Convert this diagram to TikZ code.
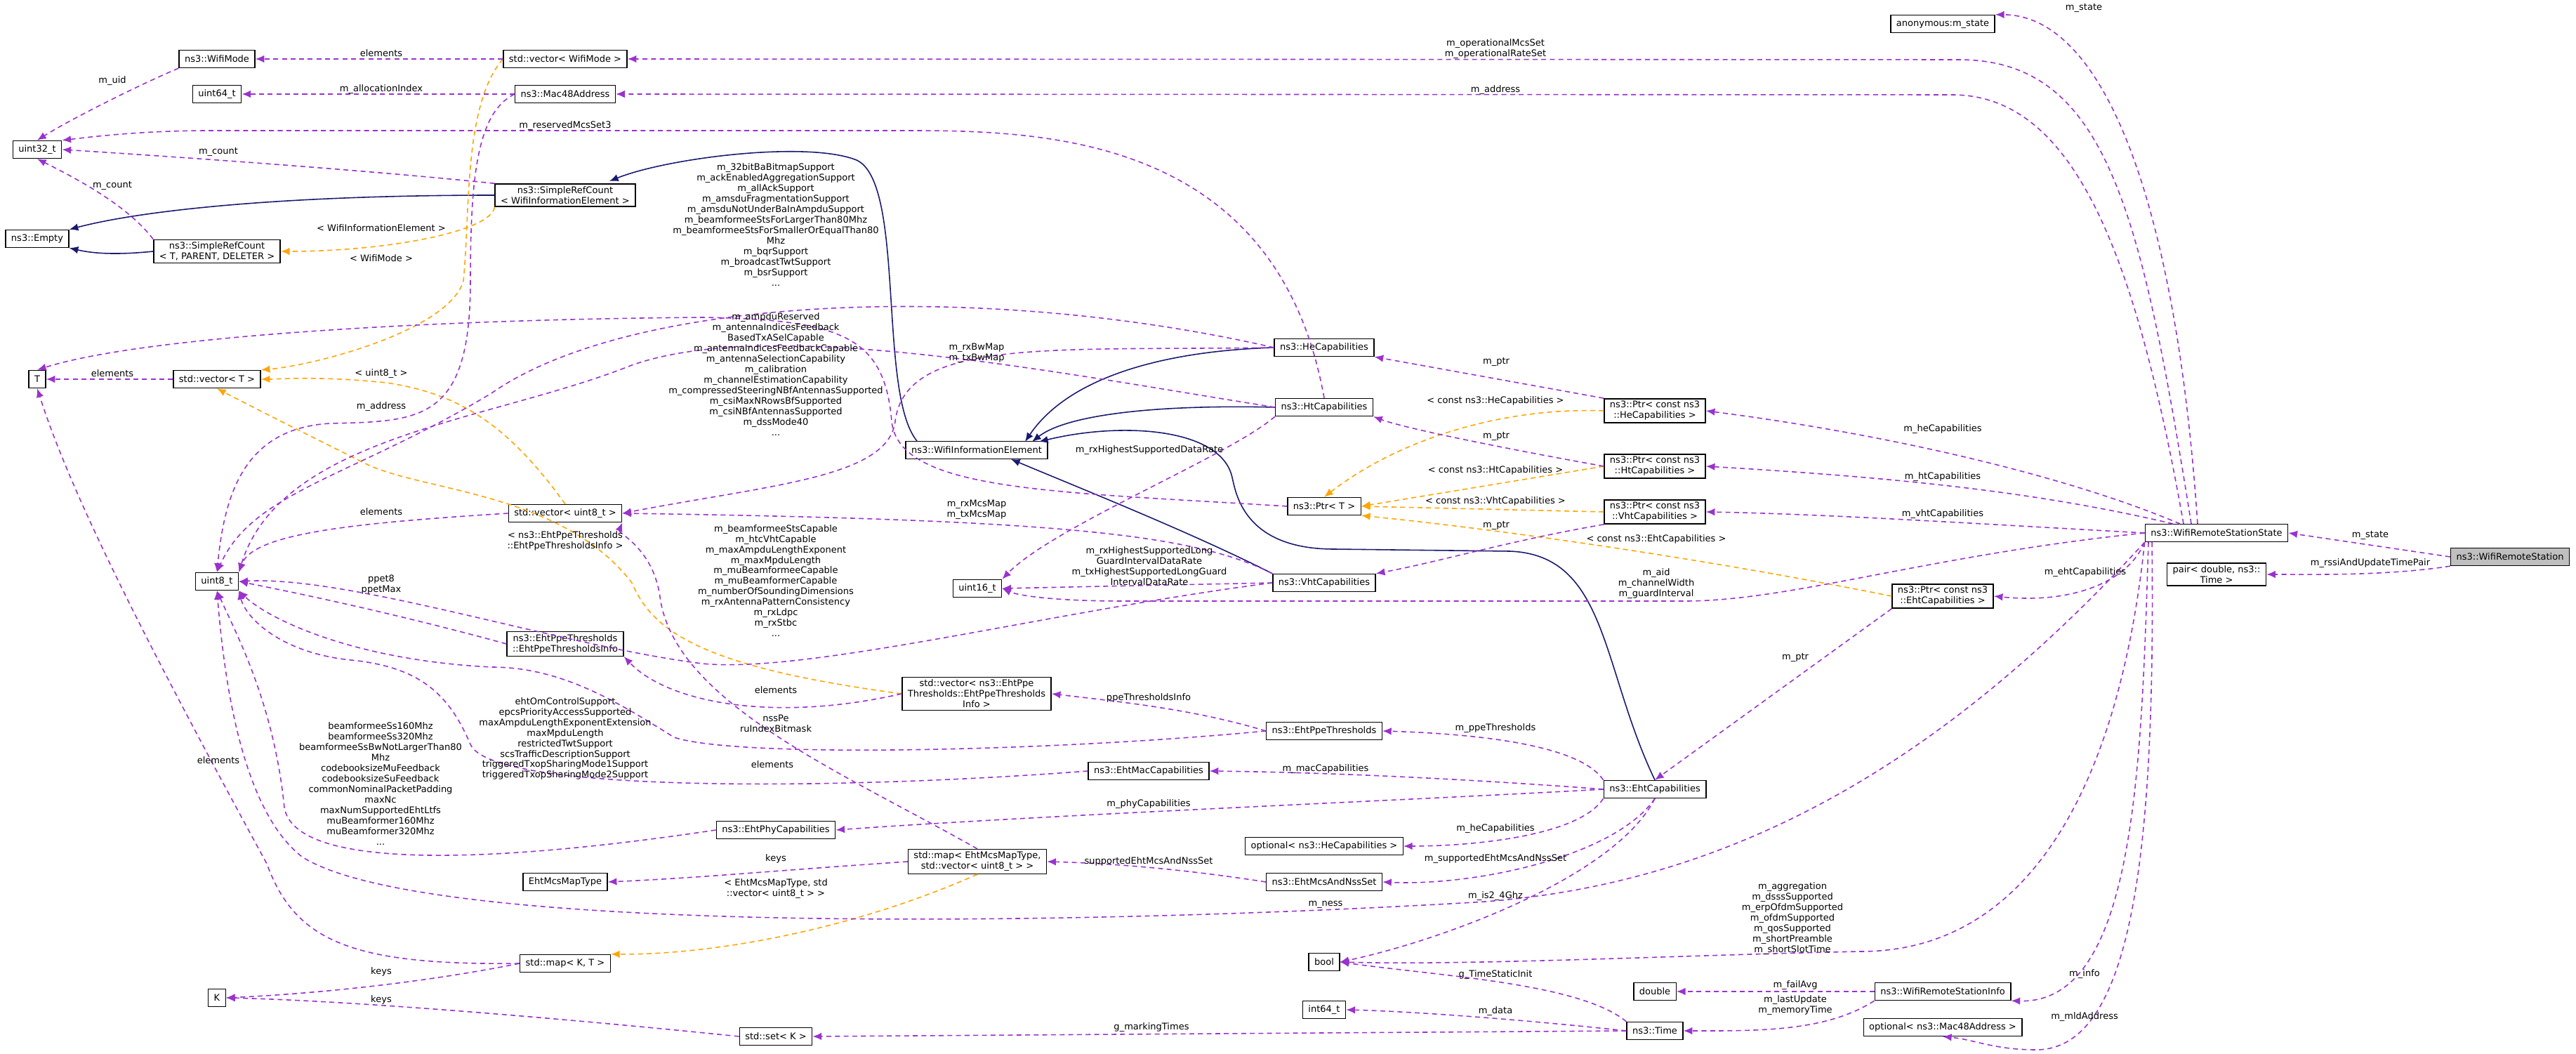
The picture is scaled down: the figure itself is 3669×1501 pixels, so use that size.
\documentclass[tikz,border=0pt]{standalone}
\usepackage{fontspec}
\setmainfont{DejaVu Sans}
\usetikzlibrary{arrows.meta}
\definecolor{relcol}{HTML}{9A32CD}
\definecolor{tplcol}{HTML}{FFA500}
\definecolor{inhcol}{HTML}{191970}
\tikzset{
  box/.style={draw=black, line width=0.4pt, fill=white, align=center, inner xsep=0.08cm, inner ysep=0.035cm, minimum height=0.25cm, font=\fontsize{3.7}{4.25}\selectfont},
  lbl/.style={align=center, inner sep=0pt, font=\fontsize{3.7}{4.25}\selectfont},
  rel/.style={draw=relcol, line width=0.45pt, dash pattern=on 2pt off 1.5pt, -{Latex[length=3.6pt,width=3pt]}},
  tpl/.style={draw=tplcol, line width=0.45pt, dash pattern=on 2pt off 1.5pt, -{Latex[length=3.6pt,width=3pt]}},
  inh/.style={draw=inhcol, line width=0.45pt, -{Latex[length=3.6pt,width=3pt]}}
}
\begin{document}
\begin{tikzpicture}[x=0.01cm, y=-0.01cm]
    \useasboundingbox (0,0) rectangle (3669,1501);

    % Classes, left column
    \node[box] (wifimode) at (309,84) {ns3::WifiMode};
    \node[box] (vecmode) at (805,84) {std::vector< WifiMode >};
    \node[box] (uintsf) at (309,134) {uint64\_t};
    \node[box] (mac) at (805,134) {ns3::Mac48Address};
    \node[box] (uinttt) at (53,213) {uint32\_t};
    \node[box] (srcwie) at (805,278) {ns3::SimpleRefCount\\< WifiInformationElement >};
    \node[box] (empty) at (53,340) {ns3::Empty};
    \node[box] (srct) at (309,358) {ns3::SimpleRefCount\\< T, PARENT, DELETER >};
    \node[box] (tnode) at (53,540) {T};
    \node[box] (vect) at (309,540) {std::vector< T >};
    \node[box] (vecu) at (805,731) {std::vector< uint8\_t >};
    \node[box] (ueight) at (309,828) {uint8\_t};
    \node[box] (ppeinfo) at (805,917) {ns3::EhtPpeThresholds\\::EhtPpeThresholdsInfo};
    \node[box] (mcstype) at (805,1256) {EhtMcsMapType};
    \node[box] (mapkt) at (805,1372) {std::map< K, T >};
    \node[box] (knode) at (309,1421) {K};
    \node[box] (setk) at (1105,1476) {std::set< K >};

    % Classes, middle
    \node[box] (hecap) at (1886,495) {ns3::HeCapabilities};
    \node[box] (htcap) at (1886,580) {ns3::HtCapabilities};
    \node[box] (wie) at (1391,641) {ns3::WifiInformationElement};
    \node[box] (ptrt) at (1886,721) {ns3::Ptr< T >};
    \node[box] (usixteen) at (1392,838) {uint16\_t};
    \node[box] (vhtcap) at (1886,830) {ns3::VhtCapabilities};
    \node[box] (vecppe) at (1391,988) {std::vector< ns3::EhtPpe\\Thresholds::EhtPpeThresholds\\Info >};
    \node[box] (ppe) at (1886,1041) {ns3::EhtPpeThresholds};
    \node[box] (ehtmac) at (1636,1098) {ns3::EhtMacCapabilities};
    \node[box] (ehtphy) at (1105,1182) {ns3::EhtPhyCapabilities};
    \node[box] (mapmcs) at (1392,1227) {std::map< EhtMcsMapType,\\std::vector< uint8\_t > >};
    \node[box] (opthe) at (1886,1205) {optional< ns3::HeCapabilities >};
    \node[box] (mcsnss) at (1886,1256) {ns3::EhtMcsAndNssSet};
    \node[box] (boolnode) at (1886,1370) {bool};
    \node[box] (isf) at (1886,1438) {int64\_t};

    % Classes, right
    \node[box] (ptrhe) at (2357,585) {ns3::Ptr< const ns3\\::HeCapabilities >};
    \node[box] (ptrht) at (2357,664) {ns3::Ptr< const ns3\\::HtCapabilities >};
    \node[box] (ptrvht) at (2357,729) {ns3::Ptr< const ns3\\::VhtCapabilities >};
    \node[box] (ptreht) at (2767,849) {ns3::Ptr< const ns3\\::EhtCapabilities >};
    \node[box] (eht) at (2357,1124) {ns3::EhtCapabilities};
    \node[box] (anon) at (2767,34) {anonymous:m\_state};
    \node[box] (wrss) at (3157,759) {ns3::WifiRemoteStationState};
    \node[box, fill=black!25] (wrs) at (3575,793) {ns3::WifiRemoteStation};
    \node[box] (pair) at (3157,818) {pair< double, ns3::\\Time >};
    \node[box] (dbl) at (2357,1412) {double};
    \node[box] (wrsi) at (2767,1412) {ns3::WifiRemoteStationInfo};
    \node[box] (timen) at (2357,1468) {ns3::Time};
    \node[box] (optmac) at (2767,1463) {optional< ns3::Mac48Address >};

    % Inheritance
    \draw[inh] (srcwie.west) .. controls (400,278) and (200,300) .. (empty.north east);
    \draw[inh] (srct.west) .. controls (150,365) and (120,358) .. (empty.south east);
    \draw[inh] (1306,628) .. controls (1250,560) and (1290,260) .. (1220,228) .. controls (1150,200) and (950,225) .. (868,258);
    \draw[inh] (hecap.west) .. controls (1650,500) and (1520,540) .. (1460,629);
    \draw[inh] (htcap.west) .. controls (1650,576) and (1520,590) .. (1470,629);
    \draw[inh] (vhtcap.north west) .. controls (1700,760) and (1550,700) .. (1440,654);
    \draw[inh] (eht.north) .. controls (2280,950) and (2290,790) .. (2150,785) -- (1900,782) .. controls (1770,782) and (1760,700) .. (1755,680) .. controls (1740,610) and (1600,600) .. (1480,629);

    % Template arguments
    \draw[tpl] (srcwie.south west) .. controls (700,330) and (550,358) .. (srct.east);
    \draw[tpl] (vecmode.west) .. controls (660,150) and (670,300) .. (660,400) .. controls (640,470) and (450,520) .. (vect.north east);
    \draw[tpl] (vecu.north) .. controls (720,600) and (650,560) .. (550,545) .. controls (450,535) and (400,540) .. (vect.east);
    \draw[tpl] (vecppe.west) .. controls (1000,950) and (930,900) .. (900,830) .. controls (800,700) and (600,700) .. (520,660) .. controls (420,610) and (360,580) .. (vect.south);
    \draw[tpl] (ptrhe.west) .. controls (2150,580) and (2000,620) .. (ptrt.north);
    \draw[tpl] (ptrht.west) -- (ptrt.east);
    \draw[tpl] (ptrvht.west) -- (ptrt.east);
    \draw[tpl] (ptreht.west) .. controls (2400,790) and (2100,750) .. (ptrt.south east);
    \draw[tpl] (mapmcs.south) .. controls (1200,1330) and (1000,1360) .. (mapkt.north east);

    % Members, left part
    \draw[rel] (vecmode.west) -- (wifimode.east);
    \draw[rel] (wifimode.south west) .. controls (200,120) and (100,170) .. (uinttt.north);
    \draw[rel] (mac.west) -- (uintsf.east);
    \draw[rel] (srcwie.north west) .. controls (500,240) and (200,220) .. (uinttt.east);
    \draw[rel] (srct.north west) .. controls (180,290) and (100,250) .. (uinttt.south);
    \draw[rel] (htcap.north) .. controls (1820,200) and (1500,186) .. (1300,186) -- (300,186) .. controls (200,186) and (130,195) .. (uinttt.north east);
    \draw[rel] (vect.west) -- (tnode.east);
    \draw[rel] (vecu.west) .. controls (500,745) and (360,760) .. (ueight.north east);
    \draw[rel] (mac.west) .. controls (680,160) and (670,250) .. (670,400) .. controls (670,600) and (600,600) .. (470,603) .. controls (350,610) and (320,700) .. (ueight.north);
    \draw[rel] (hecap.west) .. controls (1400,400) and (900,420) .. (700,560) .. controls (500,680) and (360,700) .. (ueight.north);
    \draw[rel] (htcap.west) .. controls (1500,530) and (1100,450) .. (900,520) .. controls (700,600) and (400,620) .. (ueight.north east);
    \draw[rel] (vhtcap.west) .. controls (1500,870) and (1150,960) .. (1000,945) .. controls (800,920) and (500,820) .. (ueight.east);
    \draw[rel] (ppeinfo.west) .. controls (550,870) and (400,840) .. (ueight.east);
    \draw[rel] (ppe.west) .. controls (1500,1070) and (1050,1080) .. (960,1050) .. controls (880,1000) and (800,950) .. (700,950) .. controls (500,940) and (380,880) .. (ueight.south east);
    \draw[rel] (ehtphy.west) .. controls (700,1230) and (420,1240) .. (405,1150) .. controls (390,1000) and (335,900) .. (ueight.south);
    \draw[rel] (ehtmac.west) .. controls (1200,1125) and (700,1130) .. (670,1060) .. controls (640,990) and (600,950) .. (500,940) .. controls (400,930) and (350,880) .. (ueight.south east);
    \draw[rel] (wrss.south west) .. controls (2800,1050) and (2500,1260) .. (2100,1285) .. controls (1500,1320) and (600,1330) .. (430,1220) .. controls (340,1150) and (318,950) .. (ueight.south);
    \draw[rel] (ptrt.west) .. controls (1500,700) and (1280,700) .. (1270,600) .. controls (1260,480) and (1200,455) .. (1000,452) .. controls (600,455) and (200,480) .. (tnode.north);
    \draw[rel] (mapkt.west) .. controls (500,1375) and (420,1340) .. (380,1230) .. controls (200,900) and (100,700) .. (tnode.south);
    \draw[rel] (mapkt.west) .. controls (600,1400) and (450,1415) .. (knode.east);
    \draw[rel] (setk.west) .. controls (800,1450) and (500,1425) .. (knode.east);

    % Members, middle part
    \draw[rel] (htcap.south west) .. controls (1750,650) and (1500,750) .. (usixteen.north east);
    \draw[rel] (vhtcap.west) -- (usixteen.east);
    \draw[rel] (wrss.west) .. controls (2750,790) and (2550,856) .. (2400,856) -- (1600,856) .. controls (1500,856) and (1450,848) .. (usixteen.east);
    \draw[rel] (hecap.west) .. controls (1500,500) and (1290,480) .. (1275,600) .. controls (1265,680) and (1100,690) .. (vecu.east);
    \draw[rel] (vhtcap.north west) .. controls (1700,760) and (1500,740) .. (vecu.east);
    \draw[rel] (mapmcs.north) .. controls (1200,1100) and (960,1000) .. (940,850) .. controls (930,780) and (880,760) .. (vecu.south east);
    \draw[rel] (vecppe.west) .. controls (1100,1030) and (950,1000) .. (ppeinfo.south east);
    \draw[rel] (ppe.west) .. controls (1700,1010) and (1600,1000) .. (vecppe.east);
    \draw[rel] (mapmcs.west) .. controls (1100,1240) and (1000,1250) .. (mcstype.east);
    \draw[rel] (mcsnss.west) .. controls (1700,1240) and (1600,1230) .. (mapmcs.east);
    \draw[rel] (ptrhe.north west) -- (hecap.south east);
    \draw[rel] (ptrht.west) .. controls (2150,640) and (2000,610) .. (htcap.south east);
    \draw[rel] (ptrvht.south west) .. controls (2150,770) and (2050,800) .. (vhtcap.north east);
    \draw[rel] (ptreht.south west) -- (eht.north);
    \draw[rel] (eht.north west) .. controls (2250,1060) and (2100,1045) .. (ppe.east);
    \draw[rel] (eht.west) .. controls (2100,1110) and (1900,1100) .. (ehtmac.east);
    \draw[rel] (eht.west) .. controls (2000,1140) and (1500,1160) .. (ehtphy.east);
    \draw[rel] (eht.south west) .. controls (2250,1190) and (2100,1205) .. (opthe.east);
    \draw[rel] (eht.south) .. controls (2300,1220) and (2100,1262) .. (mcsnss.east);
    \draw[rel] (eht.south) .. controls (2300,1250) and (2050,1340) .. (boolnode.east);
    \draw[rel] (timen.north west) .. controls (2250,1400) and (2050,1390) .. (boolnode.east);
    \draw[rel] (timen.west) .. controls (2150,1450) and (2000,1440) .. (isf.east);
    \draw[rel] (timen.west) -- (setk.east);

    % Members, right part
    \draw[rel] (3121,746) .. controls (3050,300) and (3000,85) .. (2790,85) -- (vecmode.east);
    \draw[rel] (3110,746) .. controls (3040,350) and (2950,135) .. (2780,135) -- (mac.east);
    \draw[rel] (3130,746) .. controls (3100,300) and (3000,22) .. (anon.north east);
    \draw[rel] (3105,746) .. controls (2950,680) and (2700,620) .. (ptrhe.east);
    \draw[rel] (3095,746) .. controls (2900,700) and (2700,680) .. (ptrht.east);
    \draw[rel] (wrss.west) .. controls (2800,745) and (2600,732) .. (ptrvht.east);
    \draw[rel] (wrss.south west) .. controls (3030,830) and (2950,860) .. (ptreht.east);
    \draw[rel] (wrss.south west) .. controls (3020,1100) and (2900,1355) .. (2650,1355) .. controls (2400,1360) and (2100,1375) .. (boolnode.east);
    \draw[rel] (3060,772) .. controls (3050,1100) and (3040,1430) .. (wrsi.south east);
    \draw[rel] (3065,772) .. controls (3070,1200) and (3040,1495) .. (2900,1495) .. controls (2840,1495) and (2810,1480) .. (optmac.south);
    \draw[rel] (wrs.west) -- (wrss.east);
    \draw[rel] (wrs.south west) .. controls (3400,820) and (3300,818) .. (pair.east);
    \draw[rel] (wrsi.west) -- (dbl.east);
    \draw[rel] (wrsi.south west) .. controls (2600,1470) and (2500,1468) .. (timen.east);

    % Labels
    \node[lbl] at (543,76) {elements};
    \node[lbl] at (160,115) {m\_uid};
    \node[lbl] at (543,127) {m\_allocationIndex};
    \node[lbl] at (311,216) {m\_count};
    \node[lbl] at (160,264) {m\_count};
    \node[lbl] at (805,179) {m\_reservedMcsSet3};
    \node[lbl] at (543,325) {< WifiInformationElement >};
    \node[lbl] at (543,368) {< WifiMode >};
    \node[lbl] at (160,532) {elements};
    \node[lbl] at (543,532) {< uint8\_t >};
    \node[lbl] at (543,579) {m\_address};
    \node[lbl] at (543,729) {elements};
    \node[lbl] at (805,770) {< ns3::EhtPpeThresholds\\::EhtPpeThresholdsInfo >};
    \node[lbl] at (543,833) {ppet8\\ppetMax};
    \node[lbl] at (1105,320) {m\_32bitBaBitmapSupport\\m\_ackEnabledAggregationSupport\\m\_allAckSupport\\m\_amsduFragmentationSupport\\m\_amsduNotUnderBaInAmpduSupport\\m\_beamformeeStsForLargerThan80Mhz\\m\_beamformeeStsForSmallerOrEqualThan80\\Mhz\\m\_bqrSupport\\m\_broadcastTwtSupport\\m\_bsrSupport\\...};
    \node[lbl] at (1105,533) {m\_ampduReserved\\m\_antennaIndicesFeedback\\BasedTxASelCapable\\m\_antennaIndicesFeedbackCapable\\m\_antennaSelectionCapability\\m\_calibration\\m\_channelEstimationCapability\\m\_compressedSteeringNBfAntennasSupported\\m\_csiMaxNRowsBfSupported\\m\_csiNBfAntennasSupported\\m\_dssMode40\\...};
    \node[lbl] at (1105,827) {m\_beamformeeStsCapable\\m\_htcVhtCapable\\m\_maxAmpduLengthExponent\\m\_maxMpduLength\\m\_muBeamformeeCapable\\m\_muBeamformerCapable\\m\_numberOfSoundingDimensions\\m\_rxAntennaPatternConsistency\\m\_rxLdpc\\m\_rxStbc\\...};
    \node[lbl] at (1105,983) {elements};
    \node[lbl] at (1105,1030) {nssPe\\ruIndexBitmask};
    \node[lbl] at (805,1052) {ehtOmControlSupport\\epcsPriorityAccessSupported\\maxAmpduLengthExponentExtension\\maxMpduLength\\restrictedTwtSupport\\scsTrafficDescriptionSupport\\triggeredTxopSharingMode1Support\\triggeredTxopSharingMode2Support};
    \node[lbl] at (542,1116) {beamformeeSs160Mhz\\beamformeeSs320Mhz\\beamformeeSsBwNotLargerThan80\\Mhz\\codebooksizeMuFeedback\\codebooksizeSuFeedback\\commonNominalPacketPadding\\maxNc\\maxNumSupportedEhtLtfs\\muBeamformer160Mhz\\muBeamformer320Mhz\\...};
    \node[lbl] at (311,1083) {elements};
    \node[lbl] at (543,1384) {keys};
    \node[lbl] at (543,1424) {keys};
    \node[lbl] at (1100,1089) {elements};
    \node[lbl] at (1105,1223) {keys};
    \node[lbl] at (1105,1266) {< EhtMcsMapType, std\\::vector< uint8\_t > >};
    \node[lbl] at (1391,503) {m\_rxBwMap\\m\_txBwMap};
    \node[lbl] at (1391,726) {m\_rxMcsMap\\m\_txMcsMap};
    \node[lbl] at (1637,641) {m\_rxHighestSupportedDataRate};
    \node[lbl] at (1637,806) {m\_rxHighestSupportedLong\\GuardIntervalDataRate\\m\_txHighestSupportedLongGuard\\IntervalDataRate};
    \node[lbl] at (2131,515) {m\_ptr};
    \node[lbl] at (2131,621) {m\_ptr};
    \node[lbl] at (2131,748) {m\_ptr};
    \node[lbl] at (2130,571) {< const ns3::HeCapabilities >};
    \node[lbl] at (2130,670) {< const ns3::HtCapabilities >};
    \node[lbl] at (2130,714) {< const ns3::VhtCapabilities >};
    \node[lbl] at (2359,768) {< const ns3::EhtCapabilities >};
    \node[lbl] at (2359,831) {m\_aid\\m\_channelWidth\\m\_guardInterval};
    \node[lbl] at (2557,936) {m\_ptr};
    \node[lbl] at (2130,1037) {m\_ppeThresholds};
    \node[lbl] at (1888,1095) {m\_macCapabilities};
    \node[lbl] at (1636,1145) {m\_phyCapabilities};
    \node[lbl] at (1636,994) {ppeThresholdsInfo};
    \node[lbl] at (1636,1227) {supportedEhtMcsAndNssSet};
    \node[lbl] at (2130,1180) {m\_heCapabilities};
    \node[lbl] at (2130,1223) {m\_supportedEhtMcsAndNssSet};
    \node[lbl] at (2130,1276) {m\_is2\_4Ghz};
    \node[lbl] at (1888,1288) {m\_ness};
    \node[lbl] at (2130,1388) {g\_TimeStaticInit};
    \node[lbl] at (2130,1440) {m\_data};
    \node[lbl] at (1640,1463) {g\_markingTimes};
    \node[lbl] at (2130,70) {m\_operationalMcsSet\\m\_operationalRateSet};
    \node[lbl] at (2130,128) {m\_address};
    \node[lbl] at (2968,11) {m\_state};
    \node[lbl] at (2767,611) {m\_heCapabilities};
    \node[lbl] at (2767,679) {m\_htCapabilities};
    \node[lbl] at (2767,732) {m\_vhtCapabilities};
    \node[lbl] at (2970,815) {m\_ehtCapabilities};
    \node[lbl] at (2553,1308) {m\_aggregation\\m\_dsssSupported\\m\_erpOfdmSupported\\m\_ofdmSupported\\m\_qosSupported\\m\_shortPreamble\\m\_shortSlotTime};
    \node[lbl] at (2969,1387) {m\_info};
    \node[lbl] at (2969,1448) {m\_mldAddress};
    \node[lbl] at (2557,1403) {m\_failAvg};
    \node[lbl] at (2557,1432) {m\_lastUpdate\\m\_memoryTime};
    \node[lbl] at (3376,762) {m\_state};
    \node[lbl] at (3376,802) {m\_rssiAndUpdateTimePair};

\end{tikzpicture}
\end{document}
